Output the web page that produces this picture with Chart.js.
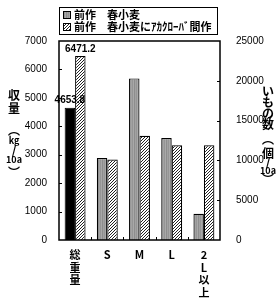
<!DOCTYPE html>
<html>
<head>
<meta charset="utf-8">
<script src="https://cdn.jsdelivr.net/npm/chart.js@4.4.1/dist/chart.umd.min.js"></script>
<style>
  html, body { margin: 0; padding: 0; background: #fff; }
  canvas { display: block; }
</style>
</head>
<body>
<canvas id="chart" width="280" height="302"></canvas>
<script>
// categories (x axis)
const categories = [['総', '重', '量'], 'S', 'M', 'L', ['2', 'L', '以', '上']];

// yield kg/10a (left axis) - only the total column
const yieldPrev = [4653.8, null, null, null, null];
const yieldClover = [6471.2, null, null, null, null];

// tuber count per 10a (right axis) - size classes
const countPrev = [null, 10300, 20300, 12800, 3300];
const countClover = [null, 10100, 13100, 11900, 11900];

const seriesNames = ['前作\u3000春小麦', '前作\u3000春小麦にｱｶｸﾛｰﾊﾞ間作'];
const leftTitle = ['収', '量', '︵', 'kg', '/', '10a', '︶'];
const rightTitle = ['い', 'も', 'の', '数', '︵', '個', '/', '10a', '︶'];

const CJK = '"Noto Sans CJK JP", "Noto Sans", sans-serif';
const NUM = '"Liberation Sans", Arial, sans-serif';

// fill patterns
function hatchPattern() {
    const c = document.createElement('canvas');
    c.width = 3; c.height = 3;
    const g = c.getContext('2d');
    g.fillStyle = '#fff';
    g.fillRect(0, 0, 3, 3);
    g.fillStyle = '#222';
    // one dark pixel per row on a diagonal
    g.fillRect(2, 0, 1, 1);
    g.fillRect(1, 1, 1, 1);
    g.fillRect(0, 2, 1, 1);
    return g.createPattern(c, 'repeat');
}

function grayPattern() {
    const c = document.createElement('canvas');
    c.width = 4; c.height = 2;
    const g = c.getContext('2d');
    const cols = ['#959595', '#a9a9a9', '#8d8d8d', '#a2a2a2'];
    cols.forEach((col, i) => { g.fillStyle = col; g.fillRect(i, 0, 1, 2); });
    return g.createPattern(c, 'repeat');
}

const hatch = hatchPattern();
const gray = grayPattern();

// frame, inward ticks, axis titles, legend, value labels
const decorations = {
    id: 'decorations',
    afterDraw(chart) {
        const ctx = chart.ctx;
        const a = chart.chartArea;
        const sx = chart.scales.x, sy = chart.scales.y, sy1 = chart.scales.y1;
        ctx.save();
        ctx.strokeStyle = '#000';

        // inward tick marks
        ctx.lineWidth = 1;
        ctx.beginPath();
        for (let v = 1000; v < 7000; v += 1000) {
            const py = Math.round(sy.getPixelForValue(v)) + 0.5;
            ctx.moveTo(a.left, py); ctx.lineTo(a.left + 3, py);
        }
        for (let v = 5000; v < 25000; v += 5000) {
            const py = Math.round(sy1.getPixelForValue(v)) + 0.5;
            ctx.moveTo(a.right, py); ctx.lineTo(a.right - 3, py);
        }
        for (let i = 0; i < categories.length - 1; i++) {
            const px = Math.round((sx.getPixelForValue(i) + sx.getPixelForValue(i + 1)) / 2) + 0.5;
            ctx.moveTo(px, a.bottom); ctx.lineTo(px, a.bottom - 3);
        }
        ctx.stroke();

        // frame
        ctx.lineWidth = 1.5;
        ctx.strokeRect(a.left, a.top, a.right - a.left, a.bottom - a.top);

        // value labels on total column
        ctx.fillStyle = '#000';
        ctx.font = 'bold 10px ' + NUM;
        ctx.textAlign = 'center';
        ctx.textBaseline = 'bottom';
        [0, 2].forEach(di => {
            const bar = chart.getDatasetMeta(di).data[0];
            const val = chart.data.datasets[di].data[0];
            ctx.fillText(val.toFixed(1), bar.x, bar.y - 2);
        });

        // vertical axis titles
        ctx.textBaseline = 'middle';
        const drawColumn = (chars, x, y0, steps) => {
            let y = y0;
            chars.forEach((ch, i) => {
                ctx.font = (ch.length > 1 ? 'bold 9px ' : 'bold 12px ') + CJK;
                ctx.fillText(ch, x, y);
                y += steps[i];
            });
        };
        drawColumn(leftTitle, 14, 95, [13, 22, 11, 9, 10, 12, 0]);
        drawColumn(rightTitle, 268, 91, [11, 11, 11, 15, 14, 9, 9, 8, 0]);

        // legend box
        ctx.lineWidth = 1;
        ctx.strokeRect(59.5, 7.5, 158, 27);
        const fills = [gray, hatch];
        ctx.textAlign = 'left';
        ctx.font = 'bold 11px ' + CJK;
        seriesNames.forEach((name, i) => {
            const ly = 15 + i * 12;
            ctx.fillStyle = fills[i];
            ctx.fillRect(63, ly - 4, 8, 8);
            ctx.strokeRect(63.5, ly - 3.5, 7, 7);
            ctx.fillStyle = '#000';
            ctx.fillText(name, 74, ly);
        });
        ctx.restore();
    }
};

const plainTick = v => String(v);

new Chart(document.getElementById('chart'), {
    type: 'bar',
    data: {
        labels: categories,
        datasets: [
            {
                label: seriesNames[0],
                data: yieldPrev,
                yAxisID: 'y',
                backgroundColor: '#000',
                borderColor: '#000',
                borderWidth: 1
            },
            {
                label: seriesNames[0],
                data: countPrev,
                yAxisID: 'y1',
                backgroundColor: gray,
                borderColor: '#000',
                borderWidth: 1.2
            },
            {
                label: seriesNames[1],
                data: yieldClover,
                yAxisID: 'y',
                backgroundColor: hatch,
                borderColor: '#000',
                borderWidth: 1.2
            },
            {
                label: seriesNames[1],
                data: countClover,
                yAxisID: 'y1',
                backgroundColor: hatch,
                borderColor: '#000',
                borderWidth: 1.2
            }
        ]
    },
    options: {
        responsive: false,
        devicePixelRatio: 1,
        animation: false,
        skipNull: true,
        categoryPercentage: 0.65,
        barPercentage: 1.0,
        layout: { padding: { top: 41, left: 0, right: 0, bottom: 0 } },
        plugins: {
            legend: { display: false },
            tooltip: { enabled: false }
        },
        scales: {
            x: {
                grid: { display: false },
                border: { display: false },
                ticks: {
                    color: '#000',
                    padding: 1,
                    maxRotation: 0,
                    autoSkip: false,
                    font: { family: CJK, size: 11, weight: 'bold', lineHeight: 1.13 }
                },
                afterFit: s => { s.height = 62; }
            },
            y: {
                position: 'left',
                min: 0,
                max: 7000,
                grid: { display: false },
                border: { display: false },
                ticks: {
                    stepSize: 1000,
                    color: '#000',
                    padding: 4,
                    callback: plainTick,
                    font: { family: NUM, size: 10 }
                },
                afterFit: s => { s.width = 59; }
            },
            y1: {
                position: 'right',
                min: 0,
                max: 25000,
                grid: { display: false },
                border: { display: false },
                ticks: {
                    stepSize: 5000,
                    color: '#000',
                    padding: 8,
                    callback: plainTick,
                    font: { family: NUM, size: 10 }
                },
                afterFit: s => { s.width = 60; }
            }
        }
    },
    plugins: [decorations]
});
</script>
</body>
</html>
